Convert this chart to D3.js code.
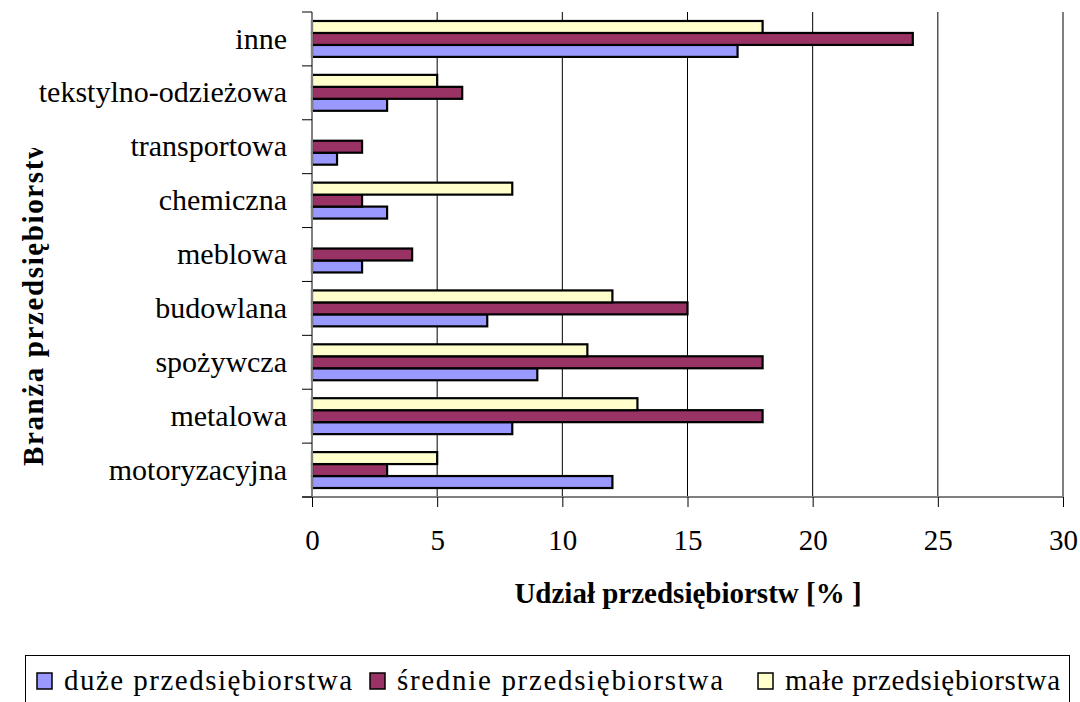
<!DOCTYPE html>
<html>
<head>
<meta charset="utf-8">
<script src="https://cdn.jsdelivr.net/npm/d3@7/dist/d3.min.js"></script>
</head>
<body style="margin:0">
<svg id="s" width="1080" height="702" font-family="Liberation Serif"></svg>
<script>
const categories = ["motoryzacyjna", "metalowa", "spożywcza", "budowlana", "meblowa", "chemiczna", "transportowa", "tekstylno-odzieżowa", "inne"];
const seriesNames = ["duże przedsiębiorstwa", "średnie przedsiębiorstwa", "małe przedsiębiorstwa"];
const duze    = [12, 8, 9, 7, 2, 3, 1, 3, 17];
const srednie = [3, 18, 18, 15, 4, 2, 2, 6, 24];
const male    = [5, 13, 11, 12, 0, 8, 0, 5, 18];
const seriesColors = ["#9999FF", "#993366", "#FFFFCC"];
const xTicks = [0, 5, 10, 15, 20, 25, 30];
const xTitle = "Udział przedsiębiorstw [% ]";
const yTitle = "Branża przedsiębiorstw";

const FONT = "Liberation Serif";
const seriesValues = [duze, srednie, male];

const svg = d3.select("#s");
const plot = { left: 312, right: 1063, top: 12, bottom: 497 };

const x = d3.scaleLinear().domain([0, 30]).range([plot.left, plot.right]);
const y = d3.scaleBand().domain(categories.slice().reverse()).range([plot.top, plot.bottom]).paddingInner(0).paddingOuter(0);

const groupH = y.bandwidth() / 1.5;
const groupOff = (y.bandwidth() - groupH) / 2;
const sub = d3.scaleBand().domain([2, 1, 0]).range([groupOff, groupOff + groupH]);

// gridlines
svg.append("g").selectAll("line").data(xTicks.filter(d => d > 0)).join("line")
  .attr("x1", d => x(d)).attr("x2", d => x(d))
  .attr("y1", plot.top).attr("y2", plot.bottom)
  .attr("stroke", "#000").attr("stroke-width", 1);

// bars
const bars = [];
categories.forEach((c, i) => {
  seriesValues.forEach((vals, s) => {
    if (vals[i] > 0) bars.push({ cat: c, s: s, v: vals[i] });
  });
});
svg.append("g").selectAll("rect").data(bars).join("rect")
  .attr("x", x(0))
  .attr("y", d => y(d.cat) + sub(d.s))
  .attr("width", d => x(d.v) - x(0))
  .attr("height", sub.bandwidth())
  .attr("fill", d => seriesColors[d.s])
  .attr("stroke", "#000")
  .attr("stroke-width", 2.2);

// x axis
const xAxis = d3.axisBottom(x).tickValues(xTicks).tickSize(10).tickPadding(22).tickFormat(d3.format("d"));
const gx = svg.append("g").attr("transform", `translate(0,${plot.bottom})`).call(xAxis);
gx.attr("font-family", FONT).attr("font-size", 29);
gx.select(".domain").attr("stroke", "#808080").attr("stroke-width", 2).attr("d", `M${plot.left - 10},0H${plot.right}`);
gx.selectAll(".tick line").attr("stroke", "#000");
gx.selectAll(".tick text").attr("fill", "#000").attr("dy", "0.71em");

// y axis
const yAxis = d3.axisLeft(y).tickSize(0).tickPadding(25);
const gy = svg.append("g").attr("transform", `translate(${plot.left},0)`).call(yAxis);
gy.attr("font-family", FONT).attr("font-size", 30);
gy.select(".domain").attr("stroke", "#808080").attr("stroke-width", 2).attr("d", `M0,${plot.top}V${plot.bottom}`);
gy.selectAll(".tick text").attr("fill", "#000");
const boundaries = categories.map(c => y(c)).concat([plot.bottom]);
svg.append("g").selectAll("line").data(boundaries).join("line")
  .attr("x1", plot.left - 10).attr("x2", plot.left)
  .attr("y1", d => d).attr("y2", d => d)
  .attr("stroke", "#000").attr("stroke-width", 1);

// axis titles
svg.append("text").attr("x", 688).attr("y", 603).attr("text-anchor", "middle")
  .attr("font-family", FONT).attr("font-size", 29).attr("font-weight", "bold").text(xTitle);

svg.append("defs").append("clipPath").attr("id", "ytclip")
  .append("rect").attr("x", 0).attr("y", 148).attr("width", 70).attr("height", 400);
svg.append("g").attr("clip-path", "url(#ytclip)")
  .append("text")
  .attr("transform", "translate(43,466) rotate(-90)")
  .attr("textLength", 328).attr("lengthAdjust", "spacing")
  .attr("font-family", FONT).attr("font-size", 29).attr("font-weight", "bold").text(yTitle);

// legend
const lg = svg.append("g");
lg.append("rect").attr("x", 25.5).attr("y", 655.5).attr("width", 1044).attr("height", 60)
  .attr("fill", "#fff").attr("stroke", "#000").attr("stroke-width", 1);
const legendX = [37, 370, 758];
const legendLen = [288, 326, 275];
seriesNames.forEach((n, i) => {
  lg.append("rect").attr("x", legendX[i]).attr("y", 673).attr("width", 15).attr("height", 16)
    .attr("fill", seriesColors[i]).attr("stroke", "#000").attr("stroke-width", 1.5);
  lg.append("text").attr("x", legendX[i] + 27).attr("y", 690)
    .attr("textLength", legendLen[i]).attr("lengthAdjust", "spacing")
    .attr("font-family", FONT).attr("font-size", 29).text(n);
});
</script>
</body>
</html>
